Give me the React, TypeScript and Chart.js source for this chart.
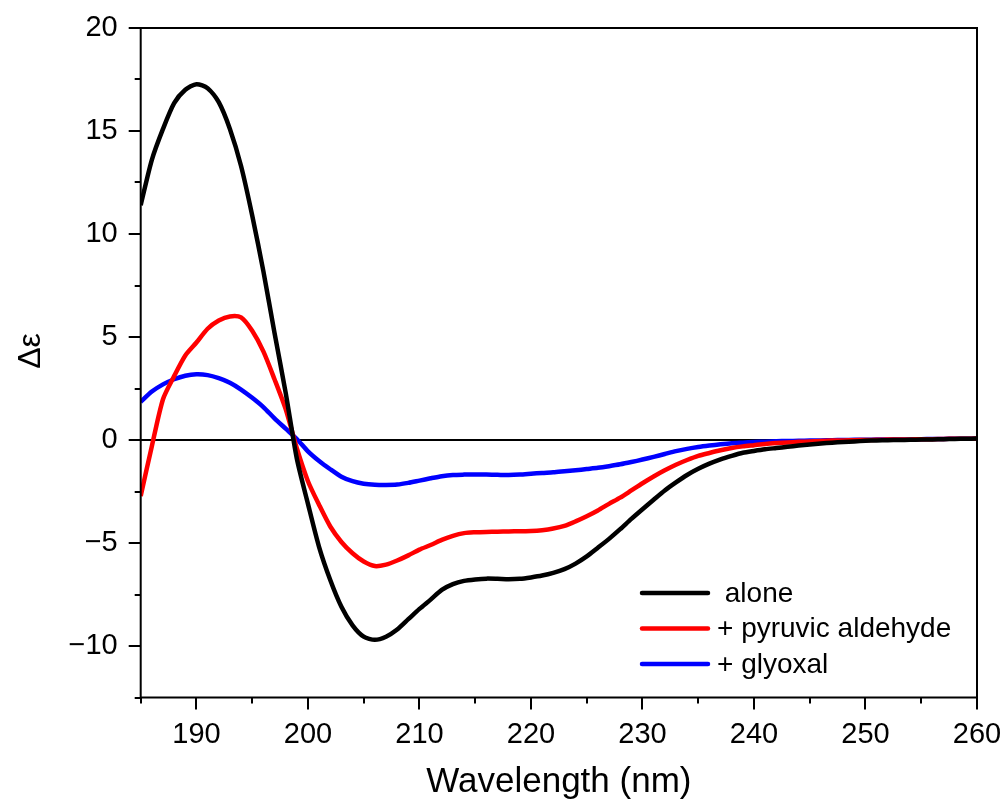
import React, { useEffect, useRef } from "react";
import { Chart, registerables } from "chart.js";

Chart.register(...registerables);

const wavelengths = [
  185, 186, 187, 188, 189, 190, 191, 192, 193, 194, 195, 196, 197, 198, 199,
  200, 201, 202, 203, 204, 205, 206, 207, 208, 209, 210, 211, 212, 213, 214,
  215, 216, 217, 218, 219, 220, 221, 222, 223, 224, 225, 226, 227, 228, 229,
  230, 231, 232, 233, 234, 235, 236, 237, 238, 239, 240, 241, 242, 243, 244,
  245, 246, 247, 248, 249, 250, 251, 252, 253, 254, 255, 256, 257, 258, 259, 260,
];

const alone = [
  11.4, 13.6, 15.1, 16.35, 17.0, 17.27, 17.08, 16.4, 15.1, 13.3, 10.9, 8.2, 5.2, 2.3, -0.9,
  -3.1, -5.2, -6.8, -8.1, -9.0, -9.55, -9.7, -9.55, -9.2, -8.7, -8.2, -7.75, -7.28, -7.0, -6.84,
  -6.77, -6.73, -6.74, -6.76, -6.74, -6.67, -6.58, -6.45, -6.27, -6.0, -5.65, -5.23, -4.8, -4.33, -3.83,
  -3.36, -2.9, -2.45, -2.06, -1.7, -1.4, -1.15, -0.94, -0.77, -0.62, -0.53, -0.45, -0.39, -0.33, -0.27,
  -0.22, -0.17, -0.13, -0.1, -0.07, -0.04, -0.02, -0.01, 0.0, 0.01, 0.02, 0.03, 0.04, 0.05, 0.06, 0.07,
];

const pyruvicAldehyde = [
  -2.72, -0.3, 1.98, 3.1, 4.1, 4.73, 5.4, 5.8, 6.0, 5.95, 5.3, 4.3, 2.95, 1.5, -0.4,
  -2.0, -3.15, -4.2, -4.95, -5.5, -5.9, -6.12, -6.05, -5.85, -5.6, -5.32, -5.1, -4.85, -4.65, -4.52,
  -4.48, -4.46, -4.45, -4.44, -4.43, -4.42, -4.38, -4.3, -4.17, -3.95, -3.7, -3.42, -3.1, -2.8, -2.45,
  -2.1, -1.77, -1.47, -1.2, -0.97, -0.77, -0.63, -0.5, -0.39, -0.31, -0.25, -0.19, -0.15, -0.12, -0.09,
  -0.07, -0.05, -0.03, -0.02, -0.01, 0.0, 0.01, 0.02, 0.02, 0.03, 0.04, 0.04, 0.05, 0.06, 0.06, 0.07,
];

const glyoxal = [
  1.85, 2.35, 2.7, 2.95, 3.12, 3.19, 3.15, 3.0, 2.78, 2.45, 2.05, 1.6, 1.05, 0.55, 0.05,
  -0.55, -1.02, -1.42, -1.78, -2.0, -2.12, -2.17, -2.18, -2.16, -2.08, -1.97, -1.86, -1.76, -1.7, -1.68,
  -1.67, -1.68, -1.69, -1.7, -1.68, -1.64, -1.6, -1.57, -1.52, -1.47, -1.41, -1.35, -1.27, -1.18, -1.07,
  -0.95, -0.82, -0.68, -0.54, -0.43, -0.34, -0.27, -0.21, -0.16, -0.13, -0.1, -0.08, -0.06, -0.05, -0.04,
  -0.03, -0.02, -0.01, 0.0, 0.01, 0.01, 0.02, 0.02, 0.03, 0.03, 0.04, 0.05, 0.05, 0.06, 0.06, 0.07,
];

const seriesLabels = [" alone", "+ pyruvic aldehyde", "+ glyoxal"];
const seriesColors = ["#000000", "#ff0000", "#0000ff"];
const seriesValues = [alone, pyruvicAldehyde, glyoxal];

const xTitle = "Wavelength (nm)";
const yTitle = "\u0394\u03b5";

const FONT = "'Liberation Sans', Arial, Helvetica, sans-serif";

const framePlugin = {
  id: "frame",
  afterDatasetsDraw(chart: any) {
    const { ctx, chartArea: a, scales } = chart;
    ctx.save();
    ctx.strokeStyle = "#000";
    ctx.lineWidth = 2;
    ctx.strokeRect(a.left, a.top, a.right - a.left, a.bottom - a.top);
    ctx.beginPath();
    scales.y.ticks.forEach((t: any) => {
      const py = Math.round(scales.y.getPixelForValue(t.value));
      const len = Math.abs(t.value % 5) < 1e-6 ? 12 : 6;
      ctx.moveTo(a.left - len, py);
      ctx.lineTo(a.left, py);
    });
    scales.x.ticks.forEach((t: any) => {
      const px = Math.round(scales.x.getPixelForValue(t.value));
      const len = Math.abs(t.value % 10) < 1e-6 ? 12 : 6;
      ctx.moveTo(px, a.bottom);
      ctx.lineTo(px, a.bottom + len);
    });
    ctx.stroke();

    // legend
    const lx0 = a.right - 335;
    const lx1 = a.right - 269;
    const ly0 = a.top + 565;
    ctx.lineWidth = 4.5;
    ctx.lineCap = "round";
    ctx.font = `28px ${FONT}`;
    ctx.textBaseline = "middle";
    ctx.textAlign = "left";
    seriesLabels.forEach((lab, i) => {
      const y = ly0 + i * 35.5;
      ctx.strokeStyle = seriesColors[i];
      ctx.beginPath();
      ctx.moveTo(lx0, y);
      ctx.lineTo(lx1, y);
      ctx.stroke();
      ctx.fillStyle = "#000";
      ctx.fillText(lab, lx1 + 9, y + 1);
    });

    // axis titles
    ctx.fillStyle = "#000";
    ctx.font = `35px ${FONT}`;
    ctx.textAlign = "center";
    ctx.fillText(xTitle, (a.left + a.right) / 2, 782);
    ctx.save();
    ctx.translate(31, 351);
    ctx.rotate(-Math.PI / 2);
    ctx.font = `32px ${FONT}`;
    ctx.fillText(yTitle, 0, 0);
    ctx.restore();
    ctx.restore();
  },
};

export default function App() {
  const ref = useRef<HTMLCanvasElement | null>(null);
  useEffect(() => {
    document.body.style.margin = "0";
    const canvas = ref.current!;
    const chart = new Chart(canvas, {
      type: "line",
      data: {
        datasets: seriesValues.map((vals, i) => ({
          label: seriesLabels[i],
          data: wavelengths.map((w, j) => ({ x: w, y: vals[j] })),
          borderColor: seriesColors[i],
          backgroundColor: seriesColors[i],
          borderWidth: 4.5,
          pointRadius: 0,
          tension: 0.25,
          fill: false,
        })),
      },
      options: {
        responsive: false,
        animation: false,
        events: [],
        layout: { padding: { top: 28, right: 25, left: 0, bottom: 0 } },
        plugins: {
          legend: { display: false },
          tooltip: { enabled: false },
          title: { display: false },
        },
        scales: {
          x: {
            type: "linear",
            min: 185,
            max: 260,
            border: { display: false },
            grid: { display: false, drawTicks: false },
            ticks: {
              stepSize: 5,
              padding: 20,
              autoSkip: false,
              maxRotation: 0,
              color: "#000",
              font: { family: FONT, size: 29 },
              callback: (v: any) => (Number(v) % 10 === 0 ? String(v) : ""),
            },
            afterFit: (s: any) => {
              s.height = 105.5;
              s.paddingLeft = 0;
              s.paddingRight = 0;
            },
          },
          y: {
            type: "linear",
            min: -12.5,
            max: 20,
            border: { display: false },
            grid: {
              drawTicks: false,
              color: (c: any) => (c.tick && c.tick.value === 0 ? "#000" : "rgba(0,0,0,0)"),
              lineWidth: 2,
            },
            ticks: {
              stepSize: 2.5,
              padding: 23,
              autoSkip: false,
              color: "#000",
              font: { family: FONT, size: 29 },
              callback: (v: any) =>
                Number(v) % 5 === 0 ? String(v).replace("-", "\u2212") : "",
            },
            afterFit: (s: any) => {
              s.width = 140.7;
              s.paddingTop = 0;
              s.paddingBottom = 0;
            },
          },
        },
      },
      plugins: [framePlugin],
    });
    return () => chart.destroy();
  }, []);
  return (
    <div style={{ position: "absolute", left: 0, top: 0, width: 1002, height: 803, background: "#fff" }}>
      <canvas ref={ref} width={1002} height={803} style={{ width: 1002, height: 803 }} />
    </div>
  );
}
